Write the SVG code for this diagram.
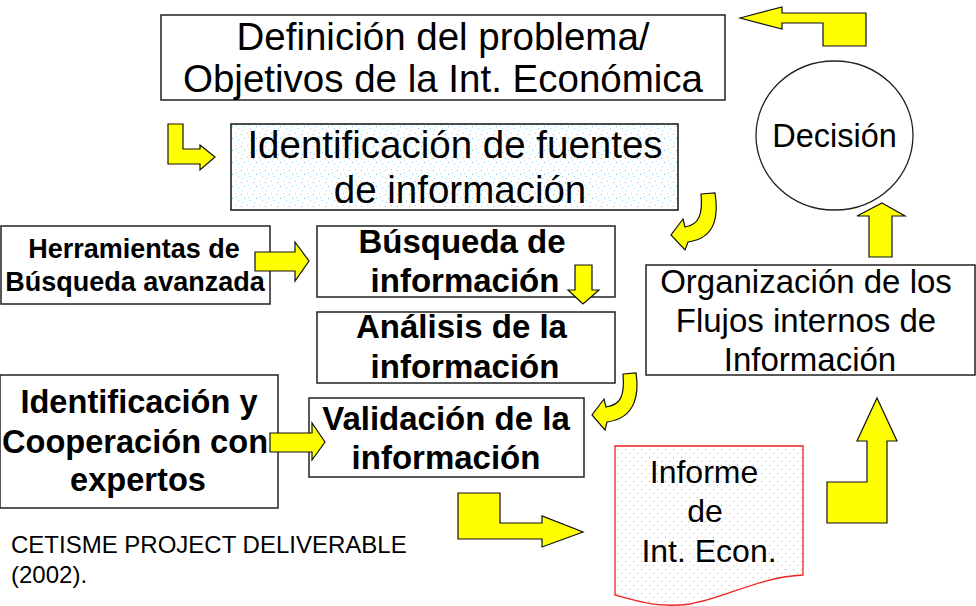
<svg xmlns="http://www.w3.org/2000/svg" width="976" height="606" viewBox="0 0 976 606">
<defs>
<pattern id="blueDots" width="12" height="12" patternUnits="userSpaceOnUse">
<rect width="12" height="12" fill="#ffffff"/>
<rect x="1" y="2" width="1" height="1" fill="#66c8f0"/>
<rect x="7" y="1" width="1" height="1" fill="#8fd6f5"/>
<rect x="4" y="6" width="1" height="1" fill="#66c8f0"/>
<rect x="10" y="8" width="1" height="1" fill="#8fd6f5"/>
<rect x="2" y="10" width="1" height="1" fill="#8fd6f5"/>
<rect x="8" y="5" width="1" height="1" fill="#a8e0f8"/>
</pattern>
<pattern id="redDots" width="8" height="8" patternUnits="userSpaceOnUse">
<rect width="8" height="8" fill="#ffffff"/>
<rect x="1" y="1" width="1" height="1" fill="#f08a8a"/>
<rect x="5" y="5" width="1" height="1" fill="#f4a8a8"/>
</pattern>
</defs>
<style>
.box{fill:#ffffff;stroke:#222222;stroke-width:1.5}
.arr{fill:#ffff00;stroke:#111111;stroke-width:1.2;stroke-linejoin:miter}
.t{font-family:"Liberation Sans",Arial,sans-serif;fill:#000000;text-anchor:middle}
.b{font-weight:bold}
</style>
<rect width="976" height="606" fill="#ffffff"/>

<g id="node-definicion">
<rect class="box" x="161" y="15" width="564" height="85"/>
<text class="t" x="443" y="50" font-size="38.5">Definición del problema/</text>
<text class="t" x="443" y="92" font-size="38.5">Objetivos de la Int. Económica</text>
</g>

<g id="node-fuentes">
<rect x="231" y="124" width="447" height="86" fill="url(#blueDots)" stroke="#111111" stroke-width="1.5"/>
<text class="t" x="455" y="158" font-size="38.5">Identificación de fuentes</text>
<text class="t" x="460" y="203" font-size="38.5">de información</text>
</g>

<g id="node-decision">
<ellipse cx="834.5" cy="135.5" rx="78.5" ry="74.5" fill="#ffffff" stroke="#222222" stroke-width="1.3"/>
<text class="t" x="834.5" y="147" font-size="32.5">Decisión</text>
</g>

<g id="node-herramientas">
<rect class="box" x="1" y="226" width="269" height="78"/>
<text class="t b" x="134" y="258" font-size="27">Herramientas de</text>
<text class="t b" x="135" y="291" font-size="27">Búsqueda avanzada</text>
</g>

<g id="node-busqueda">
<rect class="box" x="317" y="226" width="298" height="71"/>
<text class="t b" x="462" y="253" font-size="33">Búsqueda de</text>
<text class="t b" x="465" y="292" font-size="33">información</text>
</g>

<g id="node-analisis">
<rect class="box" x="317" y="312" width="298" height="71"/>
<text class="t b" x="461.5" y="338" font-size="33">Análisis de la</text>
<text class="t b" x="465" y="378" font-size="33">información</text>
</g>

<g id="node-organizacion">
<rect class="box" x="646" y="265" width="329" height="110"/>
<text class="t" x="806" y="293" font-size="33">Organización de los</text>
<text class="t" x="806" y="332" font-size="33">Flujos internos de</text>
<text class="t" x="810" y="371" font-size="33">Información</text>
</g>

<g id="node-expertos">
<rect class="box" x="0" y="375" width="278" height="133"/>
<text class="t b" x="139" y="413" font-size="32.6">Identificación y</text>
<text class="t b" x="135" y="453" font-size="32.6">Cooperación con</text>
<text class="t b" x="138" y="491" font-size="32.6">expertos</text>
</g>

<g id="node-validacion">
<rect class="box" x="309" y="398" width="275" height="79"/>
<text class="t b" x="446" y="430" font-size="33">Validación de la</text>
<text class="t b" x="446" y="469" font-size="33">información</text>
</g>

<g id="node-informe">
<path d="M615,446 L803,446 L803,575 C760,577 725,598 690,604 C660,608 640,602 615,595 Z" fill="url(#redDots)" stroke="#ee2222" stroke-width="1.3"/>
<text class="t" x="704" y="483" font-size="32">Informe</text>
<text class="t" x="705" y="522" font-size="32">de</text>
<text class="t" x="709" y="562" font-size="32">Int. Econ.</text>
</g>

<g id="source-note">
<text x="11" y="553" font-family="'Liberation Sans',Arial,sans-serif" font-size="24" fill="#000000">CETISME PROJECT DELIVERABLE</text>
<text x="11" y="583" font-family="'Liberation Sans',Arial,sans-serif" font-size="24" fill="#000000">(2002).</text>
</g>

<g id="connectors">
<polygon class="arr" points="740,18 782,7 782,13 866,13 866,46 823,46 823,23 782,23 782,29"/>
<polygon class="arr" points="168,124 183,124 183,149 200,149 200,145 215,157 200,170 200,164 168,164"/>
<path class="arr" d="M701,194 L715,193 C718,212 718,238 688,242 L685,250 L671,235 L683,219 L685,227 C699,225 703,214 701,194 Z"/>
<polygon class="arr" points="255,252 295,252 295,242 309,261 295,281 295,271 255,271"/>
<polygon class="arr" points="575,265 592,265 592,290 599,290 583,304 568,290 575,290"/>
<path class="arr" d="M623,374 L636,373 C639,392 637,418 607,422 L605,430 L592,415 L604,399 L606,407 C620,405 625,397 623,374 Z"/>
<polygon class="arr" points="270,433 312,433 312,423 325,442 312,460 312,452 270,452"/>
<polygon class="arr" points="458,493 500,493 500,523 542,523 542,516 583,532 542,547 542,539 458,539"/>
<polygon class="arr" points="877,398 897,441 887,441 887,523 827,523 827,482 867,482 867,441 857,441"/>
<polygon class="arr" points="882,203 905,216 892,216 892,257 869,257 869,216 857,216"/>
</g>
</svg>
